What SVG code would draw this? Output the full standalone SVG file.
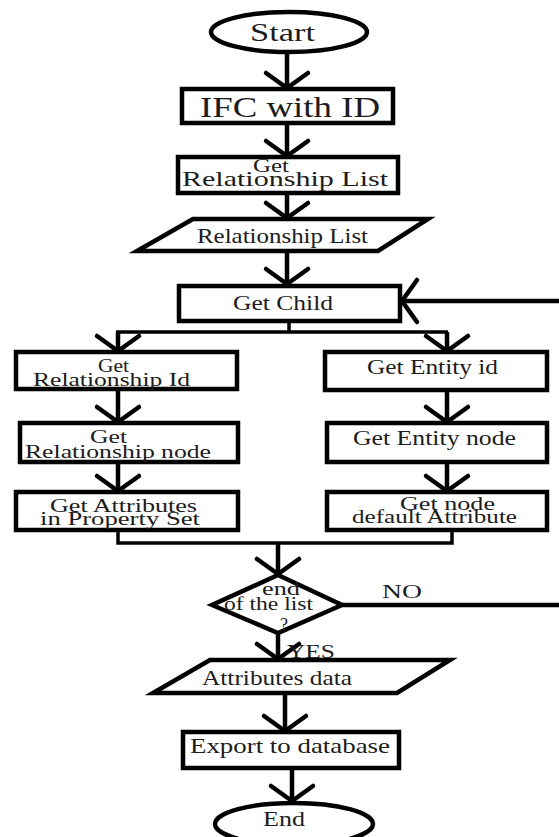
<svg xmlns="http://www.w3.org/2000/svg" width="559" height="837" viewBox="0 0 559 837">
<defs>
<style>
.shape{fill:#ffffff;stroke:#000000;stroke-width:4.5}
.ln{fill:none;stroke:#000000;stroke-width:4.5;stroke-linejoin:miter}
.thin{fill:none;stroke:#000000;stroke-width:3.5}
.t{font-family:"Liberation Serif","Times New Roman",serif;fill:#1c1c1c}
</style>
<marker id="ah" markerUnits="userSpaceOnUse" markerWidth="40" markerHeight="50" viewBox="-20 -25 40 50" refX="0" refY="0" orient="auto" overflow="visible">
<path d="M-15,-21 L0,0 L-15,21" fill="none" stroke="#000" stroke-width="4.5" stroke-linecap="round" stroke-linejoin="miter"/>
</marker>
</defs>
<rect width="559" height="837" fill="#ffffff"/>

<g id="connectors">
<path class="ln" d="M287,52 V88" marker-end="url(#ah)"/>
<path class="ln" d="M287,123 V156" marker-end="url(#ah)"/>
<path class="ln" d="M287,193 V218" marker-end="url(#ah)"/>
<path class="ln" d="M287,251 V284" marker-end="url(#ah)"/>
<path class="ln" d="M342,605 H565 V301 H402" marker-end="url(#ah)"/>
<path class="thin" d="M289,322 V332 M116,332 H448"/>
<path class="ln" d="M118,332 V351" marker-end="url(#ah)"/>
<path class="ln" d="M447,332 V351" marker-end="url(#ah)"/>
<path class="ln" d="M118,389 V422" marker-end="url(#ah)"/>
<path class="ln" d="M118,462 V491" marker-end="url(#ah)"/>
<path class="ln" d="M447,390 V422" marker-end="url(#ah)"/>
<path class="ln" d="M447,462 V491" marker-end="url(#ah)"/>
<path class="thin" d="M118,530 V543 H452 V530"/>
<path class="ln" d="M278,543 V574" marker-end="url(#ah)"/>
<path class="ln" d="M278,633 V659" marker-end="url(#ah)"/>
<path class="ln" d="M285,693 V731" marker-end="url(#ah)"/>
<path class="ln" d="M292,768 V801" marker-end="url(#ah)"/>
</g>

<g id="start">
<ellipse class="shape" cx="289" cy="32" rx="78" ry="20"/>
<text class="t" x="250" y="41" font-size="25" textLength="65" lengthAdjust="spacingAndGlyphs">Start</text>
</g>

<g id="ifc">
<rect class="shape" x="182" y="89" width="211" height="34"/>
<text class="t" x="200" y="117" font-size="29" textLength="180" lengthAdjust="spacingAndGlyphs">IFC with ID</text>
</g>

<g id="get-relationship-list">
<rect class="shape" x="178" y="157" width="220" height="36"/>
<text class="t" x="253" y="172" font-size="18" textLength="36" lengthAdjust="spacingAndGlyphs">Get</text>
<text class="t" x="182" y="186" font-size="21" textLength="206" lengthAdjust="spacingAndGlyphs">Relationship List</text>
</g>

<g id="relationship-list">
<polygon class="shape" points="193,219 428,219 378,251 137,251"/>
<text class="t" x="197" y="243" font-size="21" textLength="171" lengthAdjust="spacingAndGlyphs">Relationship List</text>
</g>

<g id="get-child">
<rect class="shape" x="179" y="286" width="221" height="35"/>
<text class="t" x="233" y="310" font-size="21" textLength="100" lengthAdjust="spacingAndGlyphs">Get Child</text>
</g>

<g id="get-relationship-id">
<rect class="shape" x="16" y="352" width="221" height="37"/>
<text class="t" x="98" y="372" font-size="19" textLength="31" lengthAdjust="spacingAndGlyphs">Get</text>
<text class="t" x="33" y="386" font-size="19" textLength="157" lengthAdjust="spacingAndGlyphs">Relationship Id</text>
</g>

<g id="get-relationship-node">
<rect class="shape" x="20" y="423" width="218" height="39"/>
<text class="t" x="90" y="443" font-size="19" textLength="37" lengthAdjust="spacingAndGlyphs">Get</text>
<text class="t" x="25" y="458" font-size="19" textLength="186" lengthAdjust="spacingAndGlyphs">Relationship node</text>
</g>

<g id="get-attributes">
<rect class="shape" x="16" y="492" width="222" height="38"/>
<text class="t" x="50" y="512" font-size="19" textLength="147" lengthAdjust="spacingAndGlyphs">Get Attributes</text>
<text class="t" x="40" y="525" font-size="19" textLength="160" lengthAdjust="spacingAndGlyphs">in Property Set</text>
</g>

<g id="get-entity-id">
<rect class="shape" x="325" y="352" width="222" height="38"/>
<text class="t" x="367" y="374" font-size="20" textLength="131" lengthAdjust="spacingAndGlyphs">Get Entity id</text>
</g>

<g id="get-entity-node">
<rect class="shape" x="327" y="423" width="220" height="39"/>
<text class="t" x="353" y="445" font-size="20" textLength="163" lengthAdjust="spacingAndGlyphs">Get Entity node</text>
</g>

<g id="get-node-default-attribute">
<rect class="shape" x="327" y="492" width="220" height="38"/>
<text class="t" x="400" y="510" font-size="19" textLength="95" lengthAdjust="spacingAndGlyphs">Get node</text>
<text class="t" x="352" y="523" font-size="19" textLength="165" lengthAdjust="spacingAndGlyphs">default Attribute</text>
</g>

<g id="end-of-list">
<polygon class="shape" points="278,575 342,605 278,633 212,605"/>
<text class="t" x="262" y="595" font-size="18" textLength="38" lengthAdjust="spacingAndGlyphs">end</text>
<text class="t" x="224" y="610" font-size="18" textLength="89" lengthAdjust="spacingAndGlyphs">of the list</text>
<text class="t" x="280" y="631" font-size="18">?</text>
<text class="t" x="382" y="598" font-size="19" textLength="40" lengthAdjust="spacingAndGlyphs">NO</text>
<text class="t" x="287" y="658" font-size="19" textLength="48" lengthAdjust="spacingAndGlyphs">YES</text>
</g>

<g id="attributes-data">
<polygon class="shape" points="210,660 450,660 397,693 153,693"/>
<text class="t" x="202" y="685" font-size="21" textLength="150" lengthAdjust="spacingAndGlyphs">Attributes data</text>
</g>

<g id="export">
<rect class="shape" x="183" y="732" width="216" height="36"/>
<text class="t" x="190" y="753" font-size="21" textLength="200" lengthAdjust="spacingAndGlyphs">Export to database</text>
</g>

<g id="end">
<ellipse class="shape" cx="294" cy="824" rx="79" ry="21"/>
<text class="t" x="263" y="826" font-size="21" textLength="42" lengthAdjust="spacingAndGlyphs">End</text>
</g>
</svg>
